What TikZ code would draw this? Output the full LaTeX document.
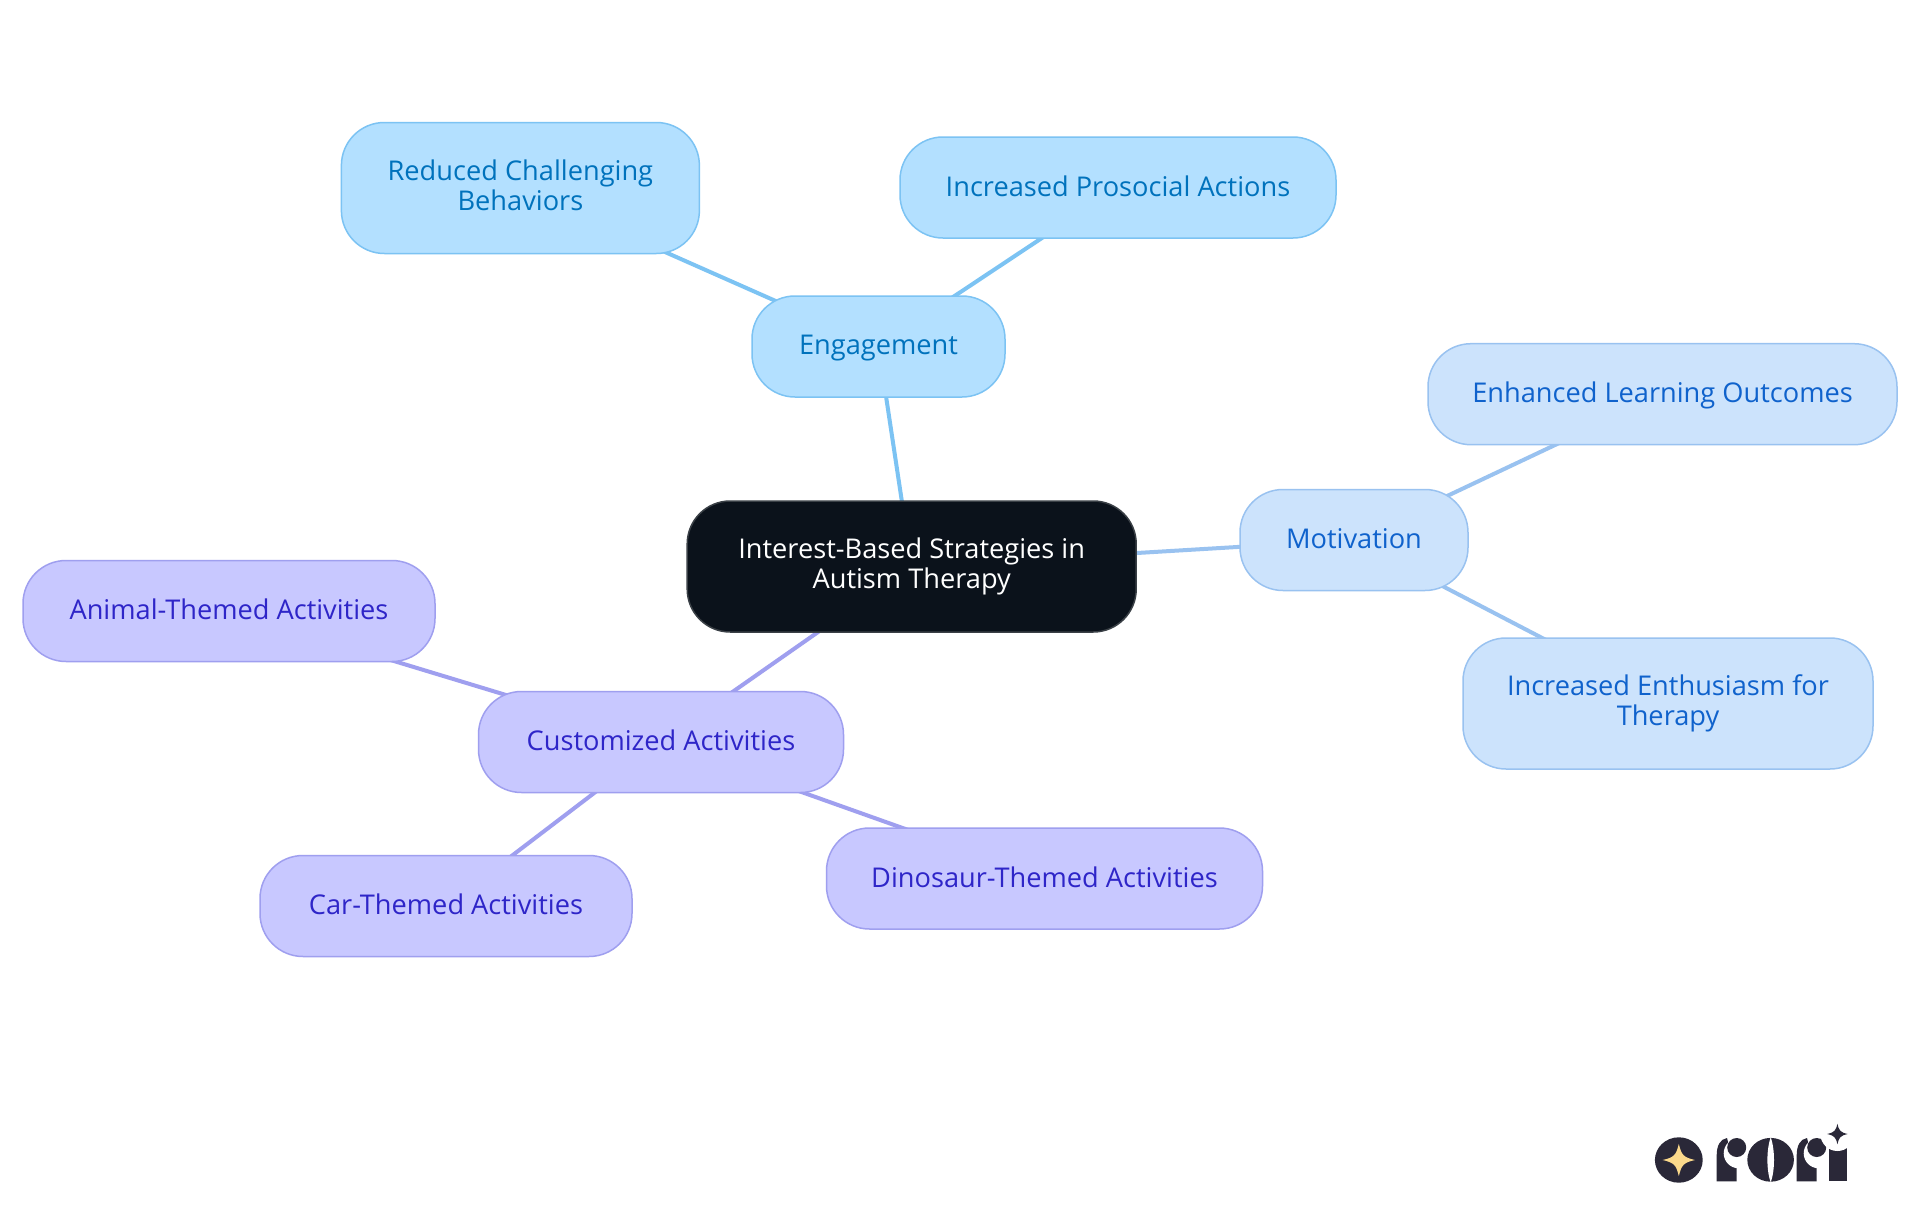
\documentclass[tikz,border=0pt]{standalone}
\usepackage{fontspec}
\setmainfont{Open Sans}
\usetikzlibrary{backgrounds}
\definecolor{rootfill}{HTML}{0B121B}
\definecolor{rootline}{HTML}{3A4046}
\definecolor{afill}{HTML}{B3E0FF}
\definecolor{aline}{HTML}{7CC3F3}
\definecolor{atext}{HTML}{0072BC}
\definecolor{bfill}{HTML}{CCE3FC}
\definecolor{bline}{HTML}{99C2F0}
\definecolor{btext}{HTML}{0F62CC}
\definecolor{cfill}{HTML}{C8C8FF}
\definecolor{cline}{HTML}{9F9FEF}
\definecolor{ctext}{HTML}{2E25C8}
\definecolor{logodark}{HTML}{2A2838}
\definecolor{logostar}{HTML}{FBD98B}
\newcommand{\ls}{\rule[-6pt]{0pt}{27pt}}
\newcommand{\lsone}{\rule[-6pt]{0pt}{29pt}}
\tikzset{
  mapnode/.style={draw,line width=1.5pt,rounded corners=43pt,inner sep=0pt,align=center,
    font=\fontsize{27.2}{30}\selectfont},
  rootnode/.style={mapnode,fill=rootfill,draw=rootline,text=white},
  anode/.style={mapnode,fill=afill,draw=aline,text=atext},
  bnode/.style={mapnode,fill=bfill,draw=bline,text=btext},
  cnode/.style={mapnode,fill=cfill,draw=cline,text=ctext},
  aedge/.style={draw=aline,line width=4pt},
  bedge/.style={draw=bline,line width=4pt},
  cedge/.style={draw=cline,line width=4pt},
  sparkle/.pic={\fill (0,-1) .. controls (.16,-.3) and (.3,-.16) .. (1,0)
      .. controls (.3,.16) and (.16,.3) .. (0,1)
      .. controls (-.16,.3) and (-.3,.16) .. (-1,0)
      .. controls (-.3,-.16) and (-.16,-.3) .. (0,-1) -- cycle;}
}
\begin{document}
\begin{tikzpicture}[x=1pt,y=-1pt]
\useasboundingbox (0,0) rectangle (1920,1215);
\node[rootnode,minimum width=449pt,minimum height=131pt] (root) at (911.7,566.5) {\ls Interest-Based Strategies in\\\ls Autism Therapy};
\node[anode,minimum width=253pt,minimum height=101pt] (eng) at (878.5,346.5) {\lsone Engagement};
\node[anode,minimum width=358pt,minimum height=131pt] (red) at (520.4,188) {\ls Reduced Challenging\\\ls Behaviors};
\node[anode,minimum width=436pt,minimum height=101pt] (pro) at (1118,187.5) {\lsone Increased Prosocial Actions};
\node[bnode,minimum width=228pt,minimum height=101pt] (mot) at (1354,540) {\lsone Motivation};
\node[bnode,minimum width=469pt,minimum height=101pt] (enh) at (1662.5,394.2) {\lsone Enhanced Learning Outcomes};
\node[bnode,minimum width=410pt,minimum height=131pt] (ent) at (1668,703.5) {\ls Increased Enthusiasm for\\\ls Therapy};
\node[cnode,minimum width=365pt,minimum height=101pt] (cus) at (661,742) {\lsone Customized Activities};
\node[cnode,minimum width=412pt,minimum height=101pt] (ani) at (229,611) {\lsone Animal-Themed Activities};
\node[cnode,minimum width=372pt,minimum height=101pt] (car) at (446,906) {\lsone Car-Themed Activities};
\node[cnode,minimum width=436pt,minimum height=101pt] (din) at (1044.5,878.5) {\lsone Dinosaur-Themed Activities};
\begin{scope}[on background layer]
\fill[white] (0,0) rectangle (1920,1215);
\draw[aedge] (root.center) -- (eng.center);
\draw[aedge] (eng.center) -- (red.center);
\draw[aedge] (eng.center) -- (pro.center);
\draw[bedge] (root.center) -- (mot.center);
\draw[bedge] (mot.center) -- (enh.center);
\draw[bedge] (mot.center) -- (ent.center);
\draw[cedge] (root.center) -- (cus.center);
\draw[cedge] (cus.center) -- (ani.center);
\draw[cedge] (cus.center) -- (car.center);
\draw[cedge] (cus.center) -- (din.center);
\end{scope}
% logo
\fill[logodark] (1678.8,1160) ellipse (23.9 and 22.7);
\path[fill=logostar] pic[scale=16.2,fill=logostar] at (1678.8,1160) {sparkle};
\fill[logodark] (1716.7,1181.3) -- (1716.7,1155) .. controls (1716.7,1146) and (1720,1139) .. (1727,1138) -- (1730,1150) -- (1736.7,1160) -- (1736.7,1181.3) -- cycle;
\fill[white] (1738.7,1153.3) circle (15);
\fill[logodark] (1736.7,1147.5) circle (9.5);
\fill[logodark] (1770.6,1159.8) ellipse (23.3 and 21.9);
\fill[white] (1770.7,1137) .. controls (1766.3,1150) and (1766.3,1170) .. (1770.7,1182.5) .. controls (1775.1,1170) and (1775.1,1150) .. (1770.7,1137) -- cycle;
\fill[logodark] (1796.7,1181.3) -- (1796.7,1155) .. controls (1796.7,1146) and (1800,1139) .. (1807,1138) -- (1810,1150) -- (1816.7,1160) -- (1816.7,1181.3) -- cycle;
\fill[white] (1818.7,1153.3) circle (15);
\fill[logodark] (1816.7,1147.5) circle (9.5);
\fill[logodark] (1829,1146) rectangle (1846.7,1181.3);
\fill[white] (1837.4,1134) circle (17);
\path[fill=logodark] pic[scale=10.3,fill=logodark] at (1837.4,1134) {sparkle};
\end{tikzpicture}
\end{document}
